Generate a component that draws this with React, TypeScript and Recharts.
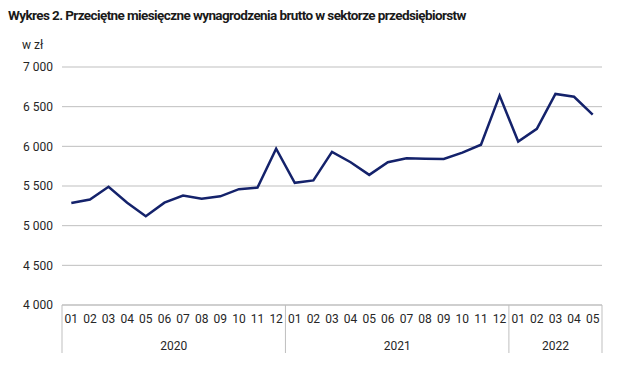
import React from "react";
import { LineChart, Line, XAxis, YAxis, CartesianGrid } from "recharts";

const YEAR_LABELS = ["2020", "2021", "2022"];
const YEAR_MONTHS = [12, 12, 5];
const WAGES = [
  5285, 5330, 5490, 5290, 5120, 5290, 5380, 5340, 5370, 5460, 5480, 5970,
  5540, 5570, 5930, 5800, 5640, 5800, 5850, 5845, 5840, 5920, 6020, 6640,
  6060, 6220, 6660, 6625, 6400,
];
const Y_TICKS = [4000, 4500, 5000, 5500, 6000, 6500, 7000];

const FONT = "Roboto, 'Liberation Sans', sans-serif";
const GRID = "#bfbfbf";

// wiersze danych: miesiąc + grupa roku
const data: { month: string; wage: number; group: number; first: boolean }[] = [];
YEAR_MONTHS.forEach((count, g) => {
  for (let m = 1; m <= count; m++) {
    data.push({
      month: String(m).padStart(2, "0"),
      wage: WAGES[data.length],
      group: g,
      first: m === 1,
    });
  }
});

const PLOT_LEFT = 62;
const PLOT_RIGHT = 602;
const BAND = (PLOT_RIGHT - PLOT_LEFT) / data.length;

const fmt = (v: number) => {
  const s = String(v);
  return s.length > 3 ? s.slice(0, s.length - 3) + " " + s.slice(-3) : s;
};

const MonthTick = (props: any) => {
  const { x, y, payload, index } = props;
  const row = data[index];
  const half = BAND / 2;
  return (
    <g>
      <text x={x} y={y + 18} textAnchor="middle" fontSize={12} fill="#262626" fontFamily={FONT}>
        {payload.value}
      </text>
      {row && row.first ? (
        <>
          <line x1={x - half} x2={x - half} y1={y} y2={y + 48} stroke={GRID} />
          <text
            x={x - half + YEAR_MONTHS[row.group] * half}
            y={y + 45}
            textAnchor="middle"
            fontSize={12}
            fill="#262626"
            fontFamily={FONT}
          >
            {YEAR_LABELS[row.group]}
          </text>
        </>
      ) : null}
      {index === data.length - 1 ? (
        <line x1={x + half} x2={x + half} y1={y} y2={y + 48} stroke={GRID} />
      ) : null}
    </g>
  );
};

export default function App() {
  return (
    <div style={{ position: "absolute", left: 0, top: 0, width: 635, height: 378, background: "#fff" }}>
      <div
        style={{
          position: "absolute",
          left: 8,
          top: 7,
          fontFamily: FONT,
          fontWeight: "bold",
          fontSize: 13.5,
          letterSpacing: -0.6,
          color: "#1a1a1a",
          whiteSpace: "nowrap",
        }}
      >
        Wykres 2. Przeciętne miesięczne wynagrodzenia brutto w sektorze przedsiębiorstw
      </div>
      <div
        style={{
          position: "absolute",
          left: 22,
          top: 38,
          fontFamily: FONT,
          fontSize: 12,
          color: "#262626",
        }}
      >
        w zł
      </div>
      <div style={{ position: "absolute", left: 0, top: 0 }}>
        <LineChart
          width={635}
          height={378}
          data={data}
          margin={{ top: 67, right: 635 - PLOT_RIGHT, bottom: 0, left: 2 }}
        >
          <CartesianGrid horizontal vertical={false} stroke={GRID} />
          <XAxis
            dataKey="month"
            interval={0}
            padding={{ left: BAND / 2, right: BAND / 2 }}
            axisLine={{ stroke: GRID }}
            tickLine={false}
            tickSize={0}
            tickMargin={0}
            height={73}
            tick={MonthTick}
          />
          <YAxis
            width={60}
            domain={[4000, 7000]}
            ticks={Y_TICKS}
            axisLine={false}
            tickLine={false}
            tickSize={0}
            tickMargin={9}
            tickFormatter={fmt}
            tick={{ fontSize: 12, fill: "#262626", fontFamily: FONT }}
          />
          <Line
            type="linear"
            dataKey="wage"
            stroke="#14226b"
            strokeWidth={2.5}
            dot={false}
            isAnimationActive={false}
          />
        </LineChart>
      </div>
    </div>
  );
}
